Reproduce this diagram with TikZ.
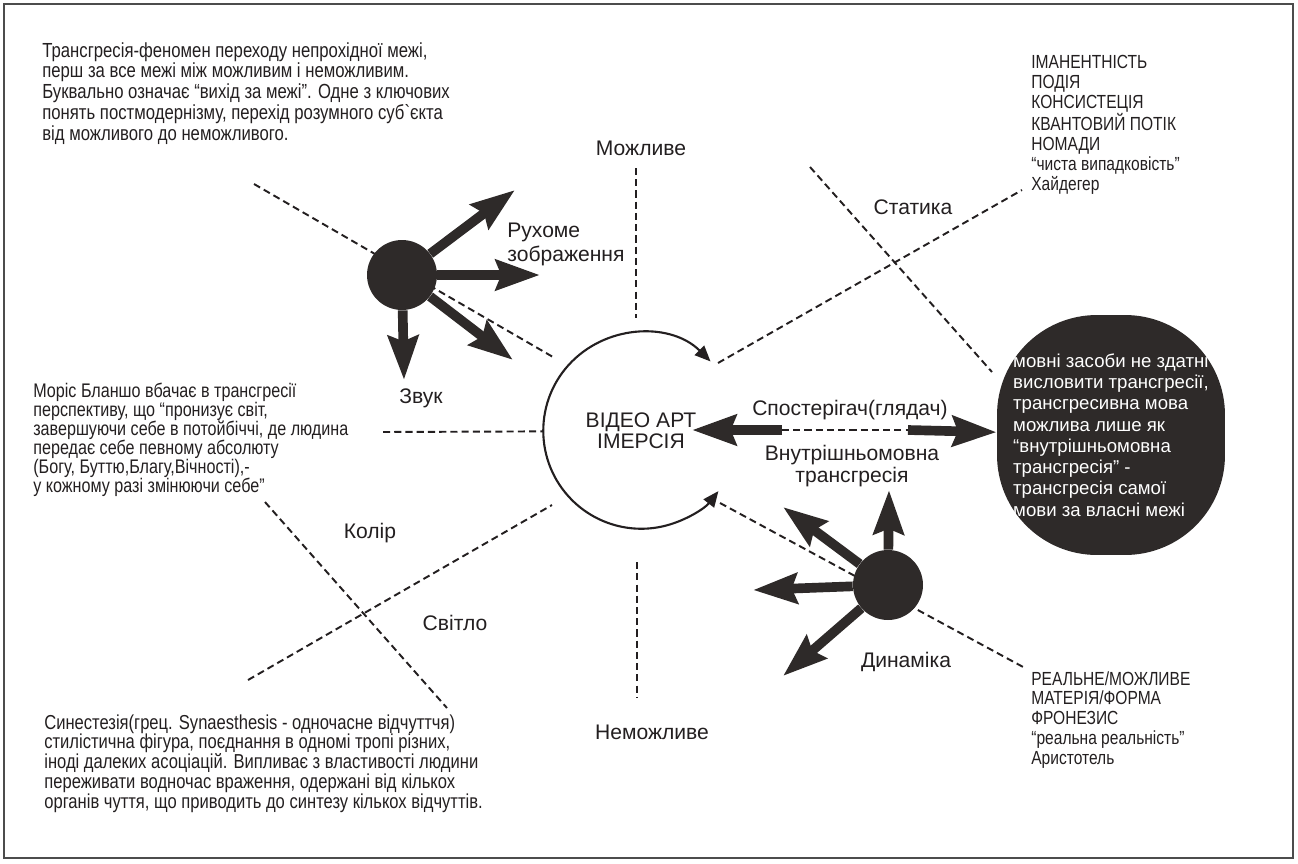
\documentclass[tikz,border=0pt]{standalone}
\usepackage{fontspec}
\setmainfont{Liberation Sans}
\newfontfamily\narrow{Liberation Sans}[FakeStretch=0.82]
\usetikzlibrary{arrows.meta}
\definecolor{ink}{HTML}{231F20}
\definecolor{blot}{HTML}{2E2A29}

\begin{document}
\begin{tikzpicture}
[x=0.02cm,y=0.02cm,
 every node/.style={text=ink,inner sep=0pt,font=\fontsize{12}{14}\selectfont},
 note/.style={anchor=north west,align=left,font=\narrow\fontsize{11.6}{10.8}\selectfont},
 cut/.style={draw=ink,line width=1.1pt,dash pattern=on 4pt off 2.4pt},
 fat/.style={draw=blot,line width=5.5pt,-{Stealth[length=25pt,width=17pt,inset=3pt]}},
 blob/.style={circle,fill=blot,minimum size=1.4cm}]
\useasboundingbox (0,0) rectangle (1298,-863);
\draw[gray!60!black,line width=1pt] (4,-4) rectangle (1293,-858);

\node[note] (t1) at (42,-42) {Трансгресія-феномен переходу непрохідної межі,\\
перш за все межі між можливим і неможливим.\\
Буквально означає “вихід за межі”. Одне з ключових\\
понять постмодернізму, перехід розумного суб`єкта\\
від можливого до неможливого.};
\node[note,font=\narrow\fontsize{11.2}{10.8}\selectfont] (t2) at (33,-383) {Моріс Бланшо вбачає в трансгресії\\
перспективу, що “пронизує світ,\\
завершуючи себе в потойбіччі, де людина\\
передає себе певному абсолюту\\
(Богу, Буттю,Благу,Вічності),-\\
у кожному разі змінюючи себе”};
\node[note,font=\narrow\fontsize{11.5}{11.3}\selectfont] (t3) at (44,-714) {Синестезія(грец. Synaesthesis - одночасне відчуттчя)\\
стилістична фігура, поєднання в одномі тропі різних,\\
іноді далеких асоціацій. Випливає з властивості людини\\
переживати водночас враження, одержані від кількох\\
органів чуття, що приводить до синтезу кількох відчуттів.};
\node[note,font=\narrow\fontsize{10.8}{11.3}\selectfont] (t4) at (1031,-55) {ІМАНЕНТНІСТЬ\\
ПОДІЯ\\
КОНСИСТЕЦІЯ\\
КВАНТОВИЙ ПОТІК\\
НОМАДИ\\
“чиста випадковість”\\
Хайдегер};
\node[note,font=\narrow\fontsize{10.8}{11.3}\selectfont] (t5) at (1031,-671) {РЕАЛЬНЕ/МОЖЛИВЕ\\
МАТЕРІЯ/ФОРМА\\
ФРОНЕЗИС\\
“реальна реальність”\\
Аристотель};

\node (l1) at (641,-148) {Можливе};
\node (l2) at (652,-732) {Неможливе};
\node[anchor=west,align=left,font=\fontsize{12}{13.6}\selectfont] (l3) at (507,-244) {Рухоме\\зображення};
\node (l4) at (421,-398) {Звук};
\node (l5) at (913,-207) {Статика};
\node (l6) at (370,-533) {Колір};
\node (l7) at (455,-623) {Світло};
\node (l8) at (906,-662) {Динаміка};
\node (l9) at (850,-410) {Спостерігач(глядач)};
\node[align=center,font=\fontsize{12}{13}\selectfont] (l10) at (852,-466) {Внутрішньомовна\\трансгресія};
\node[circle,minimum size=3.92cm,align=center,font=\fontsize{12}{12}\selectfont] (art) at (641,-431) {ВІДЕО АРТ\\ІМЕРСІЯ};

\coordinate (c1) at (636,-168);
\coordinate (c2) at (636,-318);
\coordinate (c3) at (637,-562);
\coordinate (c4) at (637,-697);
\coordinate (c5) at (254,-184);
\coordinate (c6) at (553,-357);
\coordinate (c7) at (383,-432);
\coordinate (c8) at (810,-167);
\coordinate (c9) at (992,-372);
\coordinate (c10) at (718,-363);
\coordinate (c11) at (1022,-190);
\coordinate (c12) at (265,-502);
\coordinate (c13) at (447,-708);
\coordinate (c14) at (248,-680);
\coordinate (c15) at (552,-505);
\coordinate (c16) at (720,-503);
\coordinate (c17) at (1025,-668);
\coordinate (s0) at (692,-430);
\coordinate (s1) at (782,-430);
\coordinate (s2) at (908,-430);
\foreach \from/\to in {c1/c2,c3/c4,c5/c6,c7/art,c8/c9,c10/c11,c12/c13,c14/c15,c16/c17,s1/s2}
\draw[cut] (\from) -- (\to);

\draw[ink,line width=1.2pt,{Triangle[length=9pt,width=7.5pt]}-{Triangle[length=9pt,width=7.5pt]}]
 (art.45) arc[start angle=45,end angle=322,radius=1.96cm];

\node[rectangle,rounded corners=2cm,fill=blot,minimum width=4.56cm,minimum height=4.8cm,
 text=white,align=left,font=\fontsize{10.6}{12.1}\selectfont] (mova) at (1111,-435) {мовні засоби не здатні\\
висловити трансгресії,\\
трансгресивна мова\\
можлива лише як\\
“внутрішньомовна\\
трансгресія” -\\
трансгресія самої\\
мови за власні межі};

\node[blob] (d1) at (402,-275) {};
\node[blob] (d2) at (888,-585) {};
\coordinate (r1) at (515,-190);
\coordinate (r2) at (540,-275);
\coordinate (r3) at (513,-360);
\coordinate (r4) at (404,-380);
\coordinate (q1) at (889,-490);
\coordinate (q2) at (783,-507);
\coordinate (q3) at (753,-590);
\coordinate (q4) at (783,-676);
\foreach \from/\to in {d1/r1,d1/r2,d1/r3,d1/r4,d2/q1,d2/q2,d2/q3,d2/q4,s1/s0,s2/mova}
\draw[fat] (\from) -- (\to);
\end{tikzpicture}
\end{document}
